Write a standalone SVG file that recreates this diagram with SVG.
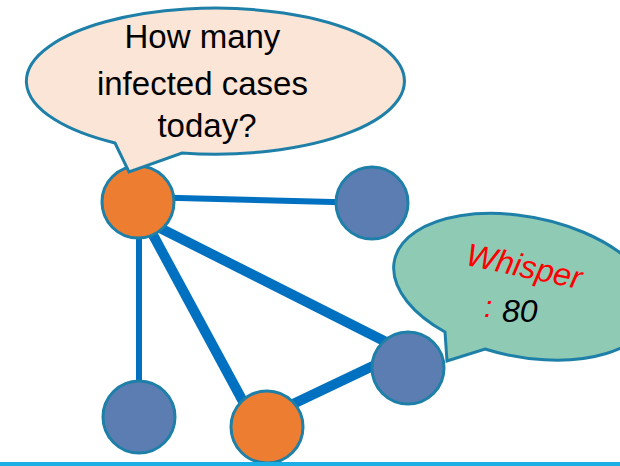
<svg xmlns="http://www.w3.org/2000/svg" width="620" height="466" viewBox="0 0 620 466">
<style>
  .edge { stroke: #0070C0; stroke-linecap: butt; fill: none; }
  .node { stroke: #1E80A8; stroke-width: 3; }
  .inf { fill: #ED7D31; }
  .ok { fill: #5B7DB2; }
  .callout { stroke: #1E80A8; stroke-width: 3; stroke-linejoin: miter; }
  .t { font-family: "Liberation Sans", Arial, sans-serif; }
</style>
<rect width="620" height="466" fill="#FFFFFF"/>
<g id="connectors">
  <line class="edge" x1="140" y1="197" x2="372" y2="203" stroke-width="6"/>
  <line class="edge" x1="139" y1="202" x2="139" y2="417" stroke-width="6"/>
  <line class="edge" x1="146" y1="222" x2="246" y2="407" stroke-width="10"/>
  <line class="edge" x1="150" y1="223" x2="400" y2="349" stroke-width="10"/>
  <line class="edge" x1="272" y1="414" x2="396" y2="355" stroke-width="10"/>
</g>
<g id="callout-whisper">
  <path class="callout" fill="#8FCAB4" d="M 445,332 L 447,361 L 485,349 A 132 70 11.4 1 0 445,332 Z"/>
  <text class="t" x="522" y="277" text-anchor="middle" font-size="32" font-style="italic" fill="#FF0000" transform="rotate(12 522 277)">Whisper</text>
  <text class="t" x="484" y="317" font-size="30" font-style="italic" fill="#FF0000">:</text>
  <text class="t" x="502" y="322" font-size="32" font-style="italic" fill="#000000">80</text>
</g>
<g id="node-a"><circle class="node inf" cx="138" cy="202" r="36"/></g>
<g id="node-b"><circle class="node ok" cx="372" cy="203" r="36"/></g>
<g id="node-c"><circle class="node ok" cx="408" cy="368" r="36"/></g>
<g id="node-d"><circle class="node ok" cx="139" cy="417" r="36"/></g>
<g id="node-e"><circle class="node inf" cx="267" cy="427" r="36"/></g>
<g id="callout-question">
  <path class="callout" fill="#FBE5D6" d="M 115,143 L 129,172 L 182,153 A 189 73 0 1 0 115,143 Z"/>
  <text class="t" font-size="33" fill="#000000" text-anchor="middle">
    <tspan x="207" y="48">How many</tspan>
    <tspan x="207" y="95">infected cases</tspan>
    <tspan x="207" y="137">today?</tspan>
  </text>
</g>
<rect id="baseline" x="0" y="462" width="620" height="4" fill="#1CAFE5"/>
</svg>
